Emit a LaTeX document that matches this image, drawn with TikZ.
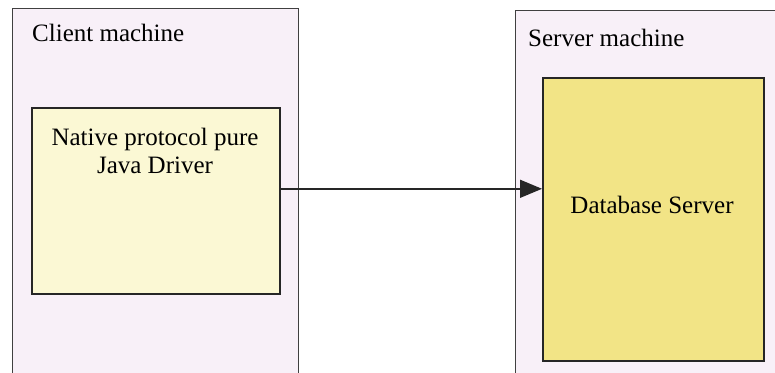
\documentclass[tikz,border=0pt]{standalone}
\usepackage{fontspec}
\newfontfamily\diagfont{Liberation Serif}
\usetikzlibrary{arrows.meta,positioning}
\definecolor{machinefill}{HTML}{F8F0F8}
\definecolor{driverfill}{HTML}{FBF8D4}
\definecolor{dbfill}{HTML}{F2E486}
\begin{document}
\begin{tikzpicture}[
    x=1pt, y=-1pt,
    font=\diagfont\fontsize{25}{28}\selectfont,
    machine/.style={rectangle, draw=black!75, fill=machinefill,
                    line width=1.4pt, anchor=north west, inner sep=0pt},
    part/.style={rectangle, draw=black!85, line width=1.6pt,
                 anchor=north west, inner sep=0pt},
    title/.style={anchor=west, inner sep=0pt},
  ]
  \clip (0,0) rectangle (775,372);
  \fill[white] (0,0) rectangle (775,372);

  % client side
  \node[machine, minimum width=286pt, minimum height=400pt] (client) at (12,8) {};
  \node[title] (clientlbl) at (32,33) {Client machine};
  \node[part, fill=driverfill, minimum width=248pt, minimum height=186pt] (drv) at (31,107) {};
  \node[align=center, inner sep=0pt] (drvlbl) at (155,151) {Native protocol pure\\Java Driver};

  % server side
  \node[machine, minimum width=300pt, minimum height=400pt] (server) at (515,10) {};
  \node[title] (serverlbl) at (528,38) {Server machine};
  \node[part, fill=dbfill, minimum width=221pt, minimum height=283pt] (db) at (542,77) {};
  \node[inner sep=0pt] (dblbl) at (652,205) {Database Server};

  % connection
  \draw[-{Triangle[length=22pt,width=18pt]}, line width=1.4pt, black!85]
    ([yshift=12pt]drv.east) -- ([yshift=12pt]drv.east -| db.west);
\end{tikzpicture}
\end{document}
